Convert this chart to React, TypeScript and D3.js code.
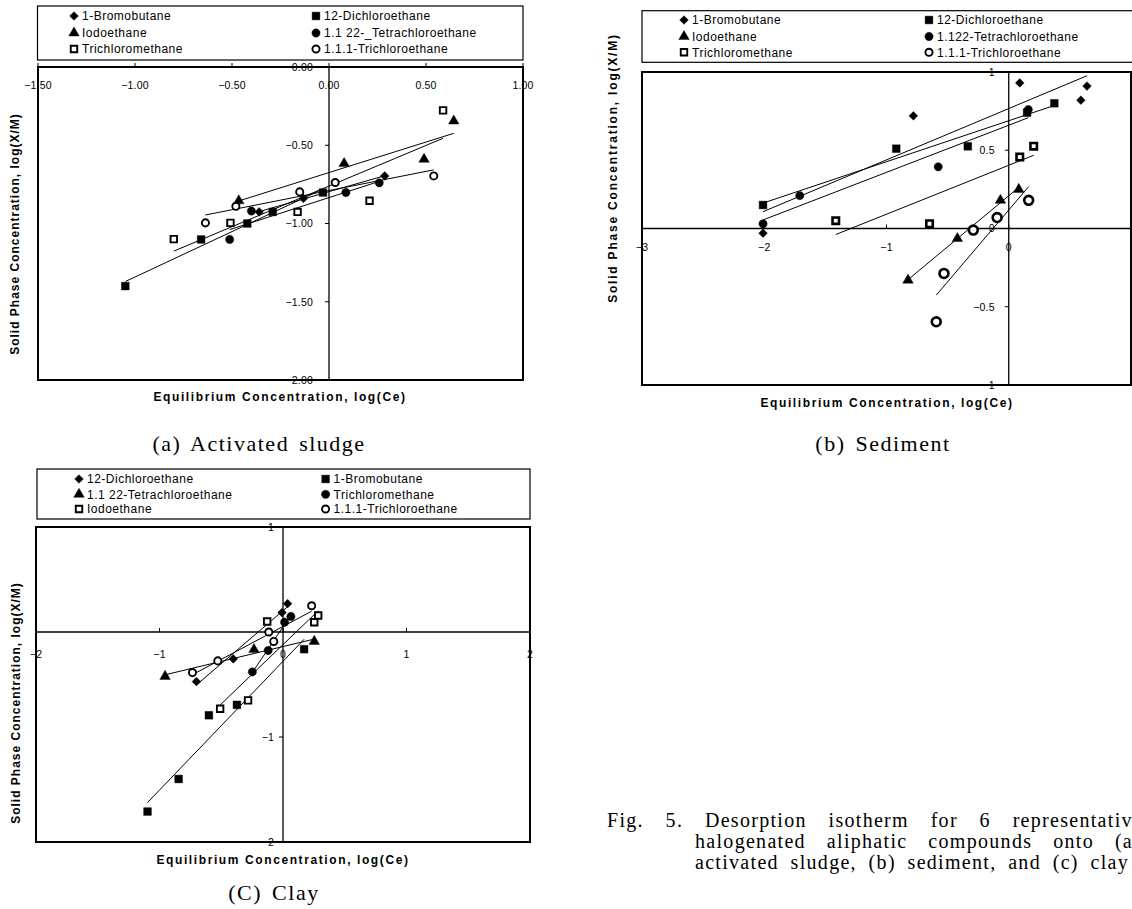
import React, { useLayoutEffect, useRef, useState } from "react";
import * as d3 from "d3";

type Pt = [number, number];

// ---------------- DATA ----------------
// (a) Activated sludge : x = log(Ce), y = log(X/M)
const A_BROMOBUTANE: Pt[] = [[-0.36, -0.926], [-0.132, -0.84], [0.287, -0.696]];
const A_DICHLOROETHANE: Pt[] = [[-1.05, -1.4], [-0.659, -1.102], [-0.421, -1.0], [-0.29, -0.926], [-0.031, -0.802]];
const A_IODOETHANE: Pt[] = [[-0.465, -0.855], [0.078, -0.617], [0.49, -0.59], [0.643, -0.345]];
const A_TETRACHLOROETHANE: Pt[] = [[-0.512, -1.102], [-0.4, -0.92], [0.087, -0.802], [0.259, -0.74]];
const A_TRICHLOROMETHANE: Pt[] = [[-0.8, -1.1], [-0.508, -0.996], [-0.162, -0.926], [0.209, -0.855], [0.588, -0.277]];
const A_TRICHLOROETHANE: Pt[] = [[-0.637, -0.996], [-0.48, -0.89], [-0.151, -0.798], [0.032, -0.738], [0.54, -0.696]];

// (b) Sediment
const B_BROMOBUTANE: Pt[] = [[-2.01, -0.03], [-0.78, 0.72], [0.09, 0.93], [0.59, 0.82], [0.64, 0.91]];
const B_DICHLOROETHANE: Pt[] = [[-2.01, 0.15], [-0.92, 0.51], [-0.335, 0.525], [0.15, 0.74], [0.373, 0.8]];
const B_IODOETHANE: Pt[] = [[-0.824, -0.33], [-0.42, -0.064], [-0.068, 0.18], [0.082, 0.25]];
const B_TETRACHLOROETHANE: Pt[] = [[-2.01, 0.03], [-1.71, 0.21], [-0.577, 0.394], [0.16, 0.76]];
const B_TRICHLOROMETHANE: Pt[] = [[-1.415, 0.05], [-0.648, 0.03], [0.09, 0.457], [0.204, 0.526]];
const B_TRICHLOROETHANE: Pt[] = [[-0.593, -0.596], [-0.53, -0.287], [-0.29, -0.01], [-0.095, 0.07], [0.163, 0.18]];

// (c) Clay
const C_DICHLOROETHANE: Pt[] = [[-0.701, -0.472], [-0.403, -0.256], [-0.008, 0.185], [0.037, 0.27]];
const C_BROMOBUTANE: Pt[] = [[-1.097, -1.71], [-0.845, -1.4], [-0.6, -0.793], [-0.373, -0.694], [0.171, -0.164]];
const C_TETRACHLOROETHANE: Pt[] = [[-0.955, -0.423], [-0.235, -0.167], [0.253, -0.09]];
const C_TRICHLOROMETHANE: Pt[] = [[-0.248, -0.38], [-0.12, -0.176], [0.013, 0.093], [0.064, 0.148]];
const C_IODOETHANE: Pt[] = [[-0.509, -0.731], [-0.283, -0.651], [-0.128, 0.1], [0.253, 0.093], [0.285, 0.157]];
const C_TRICHLOROETHANE: Pt[] = [[-0.733, -0.386], [-0.528, -0.275], [-0.115, 0.0], [-0.075, -0.09], [0.232, 0.25]];

// legend names (order: diamond, square, triangle, circle, open square, open circle)
const A_NAMES = ["1-Bromobutane", "12-Dichloroethane", "Iodoethane", "1.1 22-_Tetrachloroethane", "Trichloromethane", "1.1.1-Trichloroethane"];
const B_NAMES = ["1-Bromobutane", "12-Dichloroethane", "Iodoethane", "1.122-Tetrachloroethane", "Trichloromethane", "1.1.1-Trichloroethane"];
const C_NAMES = ["12-Dichloroethane", "1-Bromobutane", "1.1 22-Tetrachloroethane", "Trichloromethane", "Iodoethane", "1.1.1-Trichloroethane"];

const A_XTICKS = [-1.5, -1, -0.5, 0, 0.5, 1];
const A_YTICKS = [0, -0.5, -1, -1.5, -2];
const B_XTICKS = [-3, -2, -1, 0];
const B_YTICKS = [1, 0.5, 0, -0.5, -1];
const C_XTICKS = [-2, -1, 0, 1, 2];
const C_YTICKS = [1, -1, -2];

const X_TITLE = "Equilibrium Concentration, log(Ce)";
const Y_TITLE = "Solid Phase Concentration, log(X/M)";

const CAPTION_LINES = [
  "Fig. 5. Desorption isotherm for 6 representative",
  "halogenated aliphatic compounds onto (a)",
  "activated sludge, (b) sediment, and (c) clay",
];

// ---------------- LAYOUT ----------------
const SANS = "'Liberation Sans', Arial, Helvetica, sans-serif";
const SERIF = "'Liberation Serif', 'Times New Roman', serif";
const SHAPES = ["diamond", "square", "triangle", "circle", "osquare", "ocircle"];

const CAPTION_X0 = [607, 695, 695];
const CAPTION_X1 = [1143, 1141, 1129];
const CAPTION_Y = [820, 841, 862];

type Cfg = {
  series: Pt[][];
  names: string[];
  xDom: [number, number];
  yDom: [number, number];
  xRange: [number, number];
  yRange: [number, number];
  xTicks: number[];
  yTicks: number[];
  fmt: string;
  xTickDy: number;
  yTickDx: number;
  legend: { x0: number; x1: number; y0: number; y1: number; rows: number[]; cols: number[] };
  xTitle: [number, number];
  yTitle: [number, number];
  yTitleLs: number;
  caption: [string, number, number];
  bigCircle?: boolean;
};

const PANELS: Cfg[] = [
  {
    series: [A_BROMOBUTANE, A_DICHLOROETHANE, A_IODOETHANE, A_TETRACHLOROETHANE, A_TRICHLOROMETHANE, A_TRICHLOROETHANE],
    names: A_NAMES,
    xDom: [-1.5, 1], yDom: [-2, 0],
    xRange: [38, 523], yRange: [380, 67],
    xTicks: A_XTICKS, yTicks: A_YTICKS, fmt: ".2f",
    xTickDy: 18, yTickDx: -16,
    legend: { x0: 37.5, x1: 523, y0: 6, y1: 60, rows: [16, 33, 49], cols: [74, 316] },
    xTitle: [280, 397], yTitle: [15, 234], yTitleLs: 1.0,
    caption: ["(a) Activated sludge", 259, 443],
  },
  {
    series: [B_BROMOBUTANE, B_DICHLOROETHANE, B_IODOETHANE, B_TETRACHLOROETHANE, B_TRICHLOROMETHANE, B_TRICHLOROETHANE],
    names: B_NAMES,
    xDom: [-3, 1], yDom: [-1, 1],
    xRange: [642, 1131], yRange: [385, 72],
    xTicks: B_XTICKS, yTicks: B_YTICKS, fmt: "",
    xTickDy: 18.5, yTickDx: -14,
    legend: { x0: 642, x1: 1145, y0: 10.7, y1: 62.3, rows: [20, 36.5, 52.3], cols: [684, 929] },
    xTitle: [887, 403], yTitle: [613, 168], yTitleLs: 1.8,
    caption: ["(b) Sediment", 883, 443],
    bigCircle: true,
  },
  {
    series: [C_DICHLOROETHANE, C_BROMOBUTANE, C_TETRACHLOROETHANE, C_TRICHLOROMETHANE, C_IODOETHANE, C_TRICHLOROETHANE],
    names: C_NAMES,
    xDom: [-2, 2], yDom: [-2, 1],
    xRange: [36, 530], yRange: [842, 527],
    xTicks: C_XTICKS, yTicks: C_YTICKS, fmt: "",
    xTickDy: 22, yTickDx: -9,
    legend: { x0: 37, x1: 530, y0: 469, y1: 519, rows: [479, 494.3, 509], cols: [79, 325.6] },
    xTitle: [283, 860], yTitle: [16, 703], yTitleLs: 1.0,
    caption: ["(C) Clay", 274, 892],
  },
];

function fitLine(pts: Pt[]): Pt[] {
  const mx = d3.mean(pts, (p) => p[0]) as number;
  const my = d3.mean(pts, (p) => p[1]) as number;
  const sxy = d3.sum(pts, (p) => (p[0] - mx) * (p[1] - my));
  const sxx = d3.sum(pts, (p) => (p[0] - mx) * (p[0] - mx));
  const b = sxy / sxx;
  const a = my - b * mx;
  const [x0, x1] = d3.extent(pts, (p) => p[0]) as [number, number];
  return [[x0, a + b * x0], [x1, a + b * x1]];
}

const SYM: Record<string, d3.SymbolType> = {
  diamond: d3.symbolSquare,
  square: d3.symbolSquare,
  triangle: d3.symbolTriangle,
  circle: d3.symbolCircle,
};

function Marker({ shape, x, y, k = 1, big = false }: { shape: string; x: number; y: number; k?: number; big?: boolean }) {
  const open = shape[0] === "o";
  const base = open ? (shape === "osquare" ? "square" : "circle") : shape;
  const sizes: Record<string, number> = { diamond: 38, square: 60, triangle: 48, circle: 54 };
  let size = sizes[base] * k * k;
  if (open) size = (base === "circle" ? (big ? 62 : 40) : 42) * k * k;
  const d = d3.symbol().type(SYM[base]).size(size)() as string;
  const sw = open ? (big ? 2.6 : 1.9) * k : 0.4;
  const rot = base === "diamond" ? " rotate(45)" : "";
  return (
    <path d={d} transform={`translate(${x},${y})${rot}`} fill={open ? "#fff" : "#000"} stroke="#000" strokeWidth={sw} />
  );
}

function Panel({ cfg }: { cfg: Cfg }) {
  const x = d3.scaleLinear().domain(cfg.xDom).range(cfg.xRange);
  const y = d3.scaleLinear().domain(cfg.yDom).range(cfg.yRange);
  const fmt = cfg.fmt ? d3.format(cfg.fmt) : (v: number) => String(v).replace("-", "\u2212");
  const line = d3.line<Pt>().x((d) => x(d[0])).y((d) => y(d[1]));
  const x0 = x(0);
  const y0 = y(0);
  const [xl, xr] = cfg.xRange;
  const [yb, yt] = cfg.yRange;
  const L = cfg.legend;
  return (
    <g>
      {/* legend */}
      <rect x={L.x0} y={L.y0} width={L.x1 - L.x0} height={L.y1 - L.y0} fill="#fff" stroke="#000" strokeWidth={1.2} />
      {cfg.names.map((n, i) => {
        const cx = L.cols[i % 2];
        const cy = L.rows[Math.floor(i / 2)];
        return (
          <g key={n}>
            <Marker shape={SHAPES[i]} x={cx} y={cy} k={1} />
            <text x={cx + 8} y={cy} dy="0.36em" fontFamily={SANS} fontSize={12} letterSpacing={0.5} fill="#000">
              {n}
            </text>
          </g>
        );
      })}

      {/* frame */}
      <rect x={xl} y={yt} width={xr - xl} height={yb - yt} fill="none" stroke="#000" strokeWidth={2} />
      {/* axes through origin */}
      <line x1={xl} x2={xr} y1={y0} y2={y0} stroke="#000" strokeWidth={1.3} />
      <line x1={x0} x2={x0} y1={yt} y2={yb} stroke="#000" strokeWidth={1.3} />
      {cfg.xTicks.map((t) => (
        <g key={"xt" + t}>
          <line x1={x(t)} x2={x(t)} y1={y0 - 4} y2={y0} stroke="#000" strokeWidth={1} />
          <text x={x(t)} y={y0 + cfg.xTickDy} dy="0.36em" textAnchor="middle" fontFamily={SANS} fontSize={10.5} letterSpacing={0.2} fill="#000">
            {fmt(t)}
          </text>
        </g>
      ))}
      {cfg.yTicks.map((t) => (
        <g key={"yt" + t}>
          <line x1={x0 - 4} x2={x0} y1={y(t)} y2={y(t)} stroke="#000" strokeWidth={1} />
          <text x={x0 + cfg.yTickDx} y={y(t)} dy="0.36em" textAnchor="end" fontFamily={SANS} fontSize={10.5} letterSpacing={0.2} fill="#000">
            {fmt(t)}
          </text>
        </g>
      ))}

      {/* trend lines */}
      {cfg.series.map((s, i) => (
        <path key={"l" + i} d={line(fitLine(s)) as string} fill="none" stroke="#000" strokeWidth={1} />
      ))}
      {/* points */}
      {cfg.series.map((s, i) =>
        s.map((p, j) => <Marker key={`m${i}-${j}`} shape={SHAPES[i]} x={x(p[0])} y={y(p[1])} big={cfg.bigCircle} />)
      )}

      {/* titles */}
      <text x={cfg.xTitle[0]} y={cfg.xTitle[1]} dy="0.36em" textAnchor="middle" fontFamily={SANS} fontWeight="bold" fontSize={12} letterSpacing={1.6} fill="#000">
        {X_TITLE}
      </text>
      <text
        transform={`translate(${cfg.yTitle[0]},${cfg.yTitle[1]}) rotate(-90)`}
        dy="0.36em"
        textAnchor="middle"
        fontFamily={SANS}
        fontWeight="bold"
        fontSize={12}
        letterSpacing={cfg.yTitleLs}
        fill="#000"
      >
        {Y_TITLE}
      </text>
      <text x={cfg.caption[1]} y={cfg.caption[2]} dy="0.36em" textAnchor="middle" fontFamily={SERIF} fontSize={22} letterSpacing={1.5} wordSpacing={3} fill="#000">
        {cfg.caption[0]}
      </text>
    </g>
  );
}

function JustifiedLine({ text, x0, x1, y }: { text: string; x0: number; x1: number; y: number }) {
  const ref = useRef<SVGTextElement>(null);
  const [ws, setWs] = useState(8);
  useLayoutEffect(() => {
    const el = ref.current;
    if (!el) return;
    el.setAttribute("word-spacing", "0");
    const w = el.getComputedTextLength();
    const gaps = text.split(" ").length - 1;
    setWs(Math.max(0, (x1 - x0 - w) / gaps));
  }, [text, x0, x1]);
  return (
    <text ref={ref} x={x0} y={y} dy="0.36em" fontFamily={SERIF} fontSize={20} letterSpacing={1.3} wordSpacing={ws} fill="#000">
      {text}
    </text>
  );
}

export default function App() {
  return (
    <div style={{ position: "absolute", left: 0, top: 0, width: 1132, height: 909, overflow: "hidden", background: "#fff" }}>
      <svg width={1132} height={909} viewBox="0 0 1132 909" style={{ display: "block" }}>
        <rect width={1132} height={909} fill="#fff" />
        {PANELS.map((p, i) => (
          <Panel key={i} cfg={p} />
        ))}
        {CAPTION_LINES.map((t, i) => (
          <JustifiedLine key={i} text={t} x0={CAPTION_X0[i]} x1={CAPTION_X1[i]} y={CAPTION_Y[i]} />
        ))}
      </svg>
    </div>
  );
}
